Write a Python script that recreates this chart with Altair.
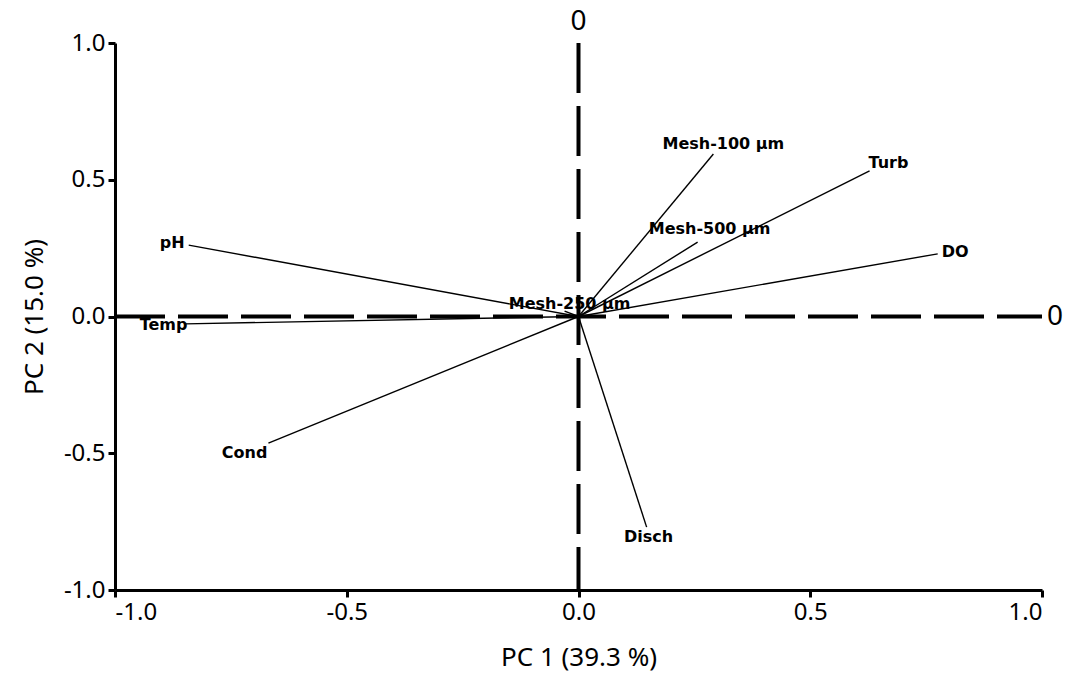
import altair as alt
import pandas as pd

# PCA loadings (PC1, PC2) for each variable
variables = ["pH", "Temp", "Cond", "Disch", "DO", "Turb",
             "Mesh-100 µm", "Mesh-500 µm", "Mesh-250 µm"]
pc1 = [-0.841, -0.848, -0.669, 0.147, 0.775, 0.628, 0.291, 0.257, -0.030]
pc2 = [0.261, -0.027, -0.463, -0.770, 0.229, 0.532, 0.594, 0.272, 0.020]

axis_ticks = [-1.0, -0.5, 0.0, 0.5, 1.0]

loadings = pd.DataFrame({"variable": variables, "pc1": pc1, "pc2": pc2,
                         "x0": 0.0, "y0": 0.0})

FONT = "Noto Sans"
LABEL_FONT = "DejaVu Sans"

xscale = alt.Scale(domain=[-1, 1], nice=False, zero=False)
yscale = alt.Scale(domain=[-1, 1], nice=False, zero=False)

minus_fix = "replace(format(datum.value, '.1f'), '\u2212', '-')"

base = alt.Chart(loadings)

# loading vectors drawn from the origin
vectors = base.mark_rule(color="black", strokeWidth=1.4).encode(
    x=alt.X("x0:Q", scale=xscale,
            axis=alt.Axis(values=axis_ticks, labelExpr=minus_fix,
                          title="PC 1 (39.3 %)")),
    y=alt.Y("y0:Q", scale=yscale,
            axis=alt.Axis(values=axis_ticks, labelExpr=minus_fix,
                          title="PC 2 (15.0 %)")),
    x2="pc1:Q",
    y2="pc2:Q",
)

# dashed zero reference lines
ref_h = alt.Chart(pd.DataFrame({"a": [-1.0], "b": [1.0], "c": [0.0]})).mark_rule(
    color="black", strokeWidth=4, strokeDash=[50, 13]
).encode(x=alt.X("a:Q", scale=xscale), x2="b:Q", y=alt.Y("c:Q", scale=yscale))

# vertical line dashed from the bottom upwards
ref_v = alt.Chart(pd.DataFrame({"a": [-1.0], "b": [1.0], "c": [0.0]})).mark_rule(
    color="black", strokeWidth=4, strokeDash=[50, 13]
).encode(y=alt.Y("b:Q", scale=yscale), y2="a:Q", x=alt.X("c:Q", scale=xscale))

# "0" markers at the ends of the reference lines
zero_top = alt.Chart(pd.DataFrame({"x": [0.0], "y": [1.0], "t": ["0"]})).mark_text(
    font=FONT, fontSize=28, color="black", dy=-21, baseline="middle", align="center"
).encode(x=alt.X("x:Q", scale=xscale), y=alt.Y("y:Q", scale=yscale), text="t:N")

zero_right = alt.Chart(pd.DataFrame({"x": [1.0], "y": [0.0], "t": ["0"]})).mark_text(
    font=FONT, fontSize=28, color="black", dx=5, baseline="middle", align="left"
).encode(x=alt.X("x:Q", scale=xscale), y=alt.Y("y:Q", scale=yscale), text="t:N")

# label placement relative to each vector tip: (align, dx, dy)
label_place = {
    "pH": ("right", -4, -2),
    "Temp": ("right", 2, 1),
    "Cond": ("right", -1, 10),
    "Disch": ("center", 2, 10),
    "DO": ("left", 4, -2),
    "Turb": ("left", -1, -8),
    "Mesh-100 µm": ("center", 10, -10),
    "Mesh-500 µm": ("center", 12, -13),
    "Mesh-250 µm": ("center", 5, -7),
}

labels = []
for name, (align, dx, dy) in label_place.items():
    labels.append(
        base.transform_filter(alt.datum.variable == name).mark_text(
            font=LABEL_FONT, fontSize=16, fontWeight="bold", color="black",
            align=align, baseline="middle", dx=dx, dy=dy
        ).encode(
            x=alt.X("pc1:Q", scale=xscale),
            y=alt.Y("pc2:Q", scale=yscale),
            text="variable:N",
        )
    )

chart = alt.layer(ref_h, ref_v, vectors, *labels, zero_top, zero_right).properties(
    width=927, height=547,
    autosize=alt.AutoSizeParams(type="none"),
    padding={"left": 115, "top": 43, "right": 26, "bottom": 83},
).configure_view(stroke=None).configure_axis(
    grid=False,
    domainColor="black", domainWidth=3,
    tickColor="black", tickWidth=3, tickSize=7,
    labelFont=FONT, labelFontSize=24, labelColor="black", labelPadding=3,
    titleFont=FONT, titleFontSize=26, titleColor="black", titleFontWeight="normal",
).configure_axisX(titlePadding=20).configure_axisY(titlePadding=16)

chart.save("out.html", embed_options={"renderer": "svg", "actions": False})
